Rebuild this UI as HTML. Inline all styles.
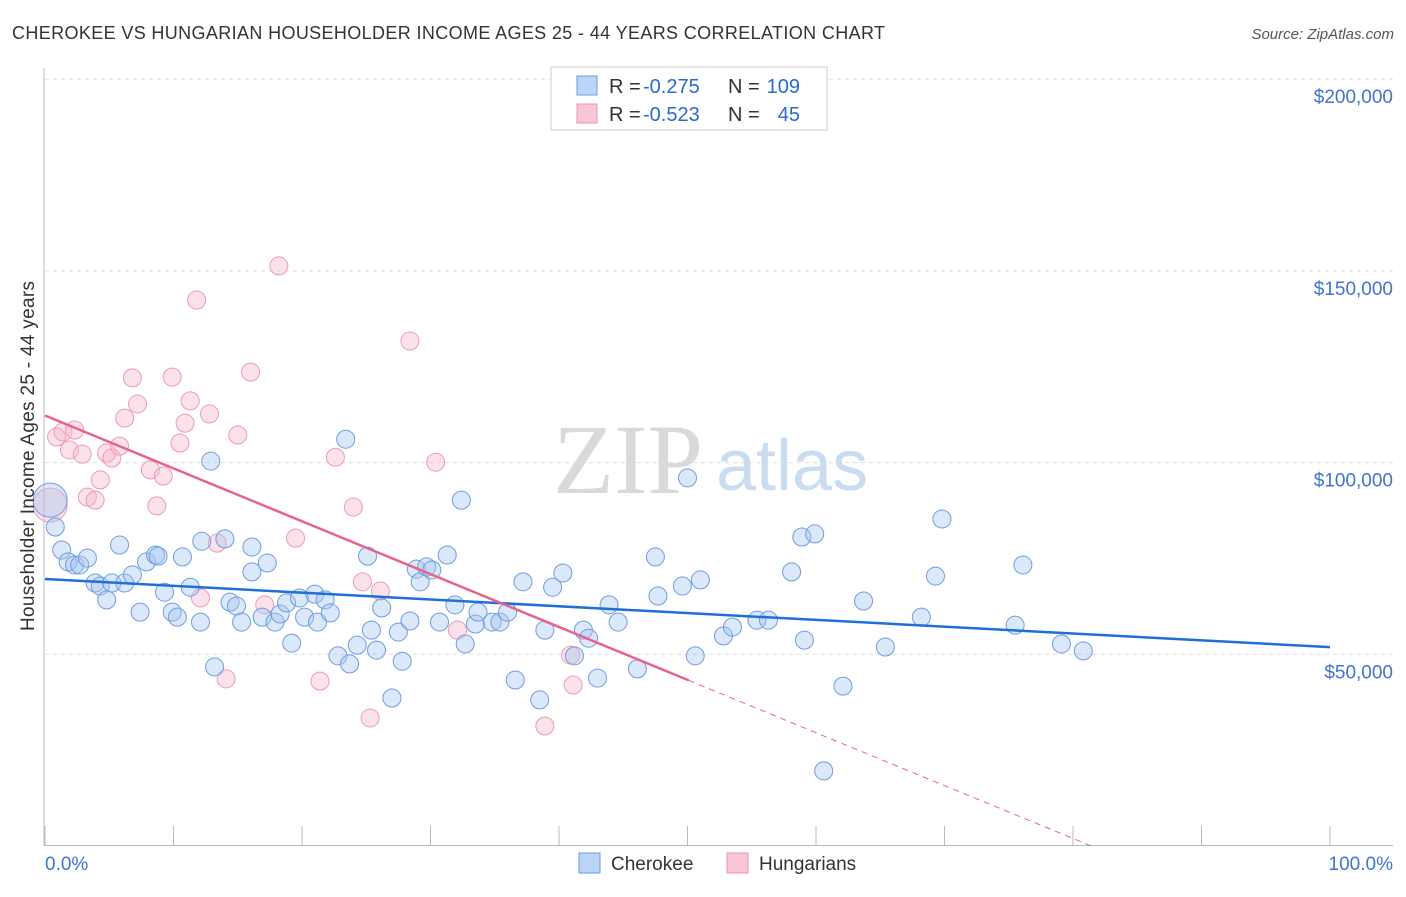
<!DOCTYPE html>
<html><head><meta charset="utf-8"><style>
body{margin:0;background:#fff;font-family:"Liberation Sans",sans-serif;}
</style></head><body>
<svg id="chart" width="1406" height="892" xmlns="http://www.w3.org/2000/svg" font-family="Liberation Sans, sans-serif">
<text x="12" y="39" font-size="18" fill="#333" textLength="873" lengthAdjust="spacing">CHEROKEE VS HUNGARIAN HOUSEHOLDER INCOME AGES 25 - 44 YEARS CORRELATION CHART</text>
<text x="1394" y="39" font-size="15" fill="#555" text-anchor="end" font-style="italic">Source: ZipAtlas.com</text>
<g>
<text x="553" y="493" font-size="100" fill="#d9d9d9" font-family="Liberation Serif, serif">ZIP</text>
<text x="716" y="490" font-size="72" fill="#c9dcf2">atlas</text>
</g>
<g id="grid"></g>
<g id="axes"></g>
<g id="marks"></g>
<text transform="translate(34,456) rotate(-90)" font-size="19" fill="#333" text-anchor="middle" textLength="350" lengthAdjust="spacing">Householder Income Ages 25 - 44 years</text>
<g>
<rect x="551" y="67" width="276" height="63" fill="#fff" stroke="#ccc"/>
<rect x="577" y="76" width="20" height="19" fill="#bcd4f5" stroke="#6a9be0"/>
<rect x="577" y="104" width="20" height="19" fill="#f9c6d6" stroke="#eb93b0"/>
<text x="609" y="93" font-size="20" fill="#333">R =</text>
<text x="643" y="93" font-size="20" fill="#2a6ad0">-0.275</text>
<text x="728" y="93" font-size="20" fill="#333">N =</text>
<text x="800" y="93" font-size="20" fill="#2a6ad0" text-anchor="end">109</text>
<text x="609" y="121" font-size="20" fill="#333">R =</text>
<text x="643" y="121" font-size="20" fill="#2a6ad0">-0.523</text>
<text x="728" y="121" font-size="20" fill="#333">N =</text>
<text x="800" y="121" font-size="20" fill="#2a6ad0" text-anchor="end">45</text>
</g>
<g>
<rect x="579" y="853" width="21" height="20" fill="#bcd4f5" stroke="#6a9be0"/>
<text x="611" y="870" font-size="19" fill="#333">Cherokee</text>
<rect x="727" y="853" width="21" height="20" fill="#f9c6d6" stroke="#eb93b0"/>
<text x="759" y="870" font-size="19" fill="#333">Hungarians</text>
</g>
</svg>
<script>
const yTicks=[50,100,150,200];
const yTickLabels=["$50,000","$100,000","$150,000","$200,000"];
const xTickLabels=["0.0%","100.0%"];
const cherokeeX=[0.4,0.8,1.3,1.8,2.3,2.7,3.3,3.9,4.3,4.8,5.2,5.8,6.2,6.8,7.4,7.9,8.6,8.8,9.3,9.9,10.3,10.7,11.3,12.1,12.2,12.9,13.2,14.0,14.4,14.9,15.3,16.1,16.1,16.9,17.3,17.9,18.3,18.8,19.2,19.8,20.2,21.0,21.2,21.8,22.2,22.8,23.4,23.7,24.3,25.1,25.4,25.8,26.2,27.0,27.5,27.8,28.4,28.9,29.2,29.7,30.1,30.7,31.3,31.9,32.4,32.7,33.5,33.7,34.8,35.4,36.0,36.6,37.2,38.5,38.9,39.5,40.3,41.2,41.9,42.3,43.0,43.9,44.6,46.1,47.5,47.7,49.6,50.0,51.0,50.6,52.8,53.5,55.4,56.3,58.1,58.9,59.1,59.9,60.6,62.1,63.7,65.4,68.2,69.3,69.8,75.5,76.1,79.1,80.8];
const cherokeeY=[90.2,83.2,77.2,74.1,73.3,73.3,75.1,68.6,67.8,64.2,68.6,78.5,68.6,70.7,61.0,74.1,75.9,75.6,66.2,61.0,59.7,75.4,67.5,58.4,79.5,100.4,46.7,80.1,63.6,62.6,58.4,71.5,78.0,59.7,73.8,58.4,60.5,63.4,52.9,64.7,59.7,65.7,58.4,64.2,60.8,49.6,106.1,47.5,52.4,75.6,56.3,51.1,62.1,38.6,55.8,48.2,58.7,72.2,68.9,72.8,72.0,58.4,75.9,62.9,90.2,52.7,57.9,61.0,58.4,58.4,61.0,43.3,68.9,38.1,56.3,67.5,71.2,49.6,56.3,54.2,43.8,62.9,58.4,46.2,75.4,65.2,67.8,96.0,69.4,49.6,54.8,57.1,58.9,58.9,71.5,80.6,53.7,81.4,19.6,41.7,63.9,51.9,59.7,70.4,85.3,57.6,73.3,52.7,50.9];
const hungX=[0.4,0.9,1.4,1.9,2.3,2.9,3.3,3.9,4.3,4.8,5.2,5.8,6.2,6.8,7.2,8.2,8.7,9.2,9.9,10.5,10.9,11.3,11.8,12.1,12.8,13.4,14.1,15.0,16.0,17.1,18.2,19.5,21.4,22.6,24.0,25.3,24.7,26.1,28.4,30.4,32.1,38.9,40.9,41.1];
const hungY=[88.9,106.7,108.0,103.3,108.5,102.2,91.0,90.2,95.5,102.5,101.2,104.3,111.6,122.1,115.3,98.1,88.7,96.5,122.3,105.1,110.3,116.1,142.4,64.7,112.7,79.0,43.6,107.2,123.6,62.9,151.3,80.3,43.0,101.4,88.4,33.4,68.9,66.5,131.7,100.1,56.3,31.3,49.8,42.0];
const NS="http://www.w3.org/2000/svg";
const X0=45,X1=1330,YB=846,PX_PER_K=191.7/50;
function sx(v){return X0+(X1-X0)*v/100;}
function sy(v){return YB-v*PX_PER_K;}
function mk(tag,attrs,parent){const e=document.createElementNS(NS,tag);for(const k in attrs)e.setAttribute(k,attrs[k]);parent.appendChild(e);return e;}
const grid=document.getElementById('grid'),axes=document.getElementById('axes'),marks=document.getElementById('marks');
yTicks.forEach((t,i)=>{
 const l=mk('line',{x1:45,x2:1393,y1:sy(t),y2:sy(t),stroke:'#ddd','stroke-dasharray':'4,4'},grid);
 
 
 const tx=mk('text',{x:1393,y:sy(t)+24,'font-size':19,fill:'#3f74cf','text-anchor':'end'},axes);
 tx.textContent=yTickLabels[i];
 
 
});
let a=mk('line',{x1:44,x2:44,y1:68,y2:846,stroke:'#bbb'},axes);


a=mk('line',{x1:44,x2:1393,y1:845.5,y2:845.5,stroke:'#bbb'},axes);


for(let i=0;i<=10;i++){
 const t=mk('line',{x1:sx(i*10),x2:sx(i*10),y1:826,y2:846,stroke:'#bbb'},axes);
 
 
}
[[0,'start',45],[100,'end',1393]].forEach((d,i)=>{
 const tx=mk('text',{x:d[2],y:870,'font-size':19,fill:'#3f74cf','text-anchor':d[1]},axes);
 tx.textContent=xTickLabels[i];
 
 
});
function fit(xs,ys){const n=xs.length;let mx=0,my=0;for(let i=0;i<n;i++){mx+=xs[i];my+=ys[i];}mx/=n;my/=n;let sxy=0,sxx=0;for(let i=0;i<n;i++){sxy+=(xs[i]-mx)*(ys[i]-my);sxx+=(xs[i]-mx)**2;}const b=sxy/sxx;return [my-b*mx,b];}
function dots(xs,ys,fill,stroke,name){
 xs.forEach((x,i)=>{
  const r=(i===0)?17:9;
  const c=mk('circle',{cx:sx(x),cy:sy(ys[i]),r:r,fill:fill,stroke:stroke,'stroke-width':1},marks);
  
  
 });
}
dots(hungX,hungY,'rgba(246,182,202,0.4)','#ee9ab6','hungarian-point');
dots(cherokeeX,cherokeeY,'rgba(165,198,240,0.4)','#6f9ddf','cherokee-point');
const fb=fit(cherokeeX,cherokeeY);
let ln=mk('line',{x1:sx(0),y1:sy(fb[0]),x2:sx(100),y2:sy(fb[0]+fb[1]*100),stroke:'#1f6fd6','stroke-width':2.5},marks);


const fp=fit(hungX,hungY);
const xmax=Math.max(...hungX)+9;
ln=mk('line',{x1:sx(0),y1:sy(fp[0]),x2:sx(xmax),y2:sy(fp[0]+fp[1]*xmax),stroke:'#e8628e','stroke-width':2.5},marks);


const xz=Math.min(100,-fp[0]/fp[1]);
ln=mk('line',{x1:sx(xmax),y1:sy(fp[0]+fp[1]*xmax),x2:sx(xz),y2:sy(fp[0]+fp[1]*xz),stroke:'#e8628e','stroke-width':1,'stroke-dasharray':'6,5'},marks);


</script>
</body></html>
